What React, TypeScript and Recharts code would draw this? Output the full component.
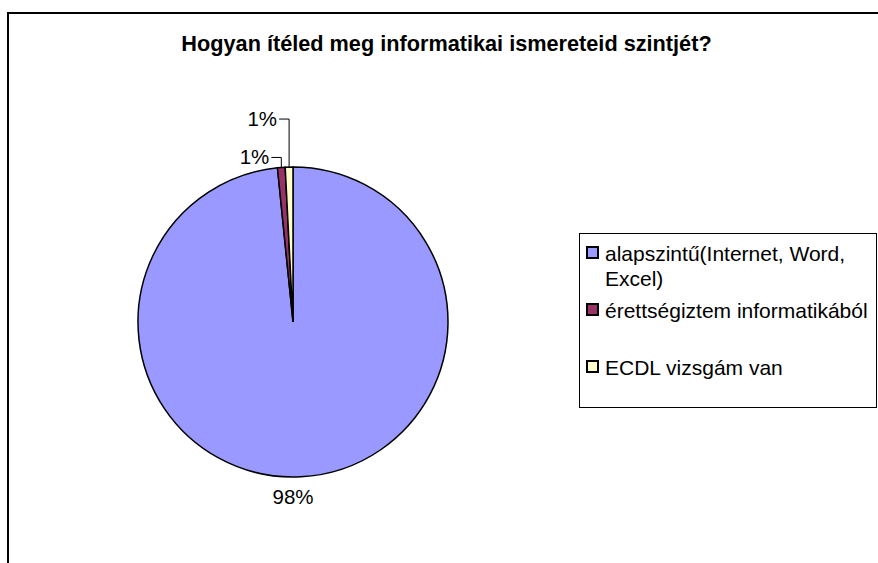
import { PieChart, Pie, Cell, Legend } from 'recharts';

const names = ['alapszintű(Internet, Word, Excel)', 'érettségiztem informatikából', 'ECDL vizsgám van'];
const values = [98.4, 0.8, 0.8];
const colors = ['#9999FF', '#993366', '#FFFFCC'];

const title = 'Hogyan ítéled meg informatikai ismereteid szintjét?';

const FONT = '"Liberation Sans", Arial, sans-serif';
const RADIAN = Math.PI / 180;

const data = names.map((name, i) => ({ name, value: values[i] }));
const total = values.reduce((a, b) => a + b, 0);

// leader line heights above the rim for the small slices
const LEADER_RISE = [0, 10, 48];

function renderLabel(props: any) {
  const { cx, cy, midAngle, outerRadius, index, value } = props;
  const pct = `${Math.round((value / total) * 100)}%`;
  if (index === 0) {
    return (
      <text x={cx} y={cy + outerRadius + 27} textAnchor="middle" fontSize={20.5} fontFamily={FONT} fill="#000">
        {pct}
      </text>
    );
  }
  const x = cx + outerRadius * Math.cos(-midAngle * RADIAN);
  const y = cy + outerRadius * Math.sin(-midAngle * RADIAN);
  const topY = y - LEADER_RISE[index];
  return (
    <g>
      <polyline
        points={`${x},${y} ${x},${topY} ${x - 10},${topY}`}
        fill="none"
        stroke="#000"
        strokeWidth={1}
      />
      <text x={x - 12} y={topY + 7} textAnchor="end" fontSize={20.5} fontFamily={FONT} fill="#000">
        {pct}
      </text>
    </g>
  );
}

function renderLegend() {
  return (
    <div
      style={{
        position: 'relative',
        border: '1px solid #000',
        width: 298,
        height: 175,
        boxSizing: 'border-box',
        fontFamily: FONT,
        fontSize: 21,
        lineHeight: '25px',
        color: '#000',
        background: '#fff',
      }}
    >
      {names.map((name, i) => (
        <div key={name} style={{ position: 'absolute', left: 6, top: 7 + i * 57, width: 290 }}>
          <svg width={13} height={13} style={{ position: 'absolute', left: 0, top: 5 }}>
            <rect x={1} y={1} width={11} height={11} fill={colors[i]} stroke="#000" strokeWidth={2} />
          </svg>
          <div style={{ marginLeft: 19, width: 272 }}>{name}</div>
        </div>
      ))}
    </div>
  );
}

export default function App() {
  return (
    <div style={{ position: 'absolute', left: 0, top: 0, width: 878, height: 563, background: '#fff', overflow: 'hidden' }}>
      <div
        style={{
          position: 'absolute',
          left: 7,
          top: 12,
          width: 900,
          height: 600,
          borderLeft: '2px solid #000',
          borderTop: '2px solid #000',
        }}
      />
      <div
        style={{
          position: 'absolute',
          left: 0,
          top: 32,
          width: 893,
          textAlign: 'center',
          fontFamily: FONT,
          fontWeight: 'bold',
          fontSize: 21.7,
          lineHeight: '24px',
          color: '#000',
        }}
      >
        {title}
      </div>
      <div style={{ position: 'absolute', left: 0, top: 0 }}>
        <PieChart width={878} height={563}>
          <Pie
            data={data}
            dataKey="value"
            nameKey="name"
            cx={288}
            cy={317}
            outerRadius={155}
            startAngle={90}
            endAngle={-270}
            stroke="#000"
            strokeWidth={1.5}
            label={renderLabel}
            labelLine={false}
            isAnimationActive={false}
          >
            {data.map((d, i) => (
              <Cell key={d.name} fill={colors[i]} />
            ))}
          </Pie>
          <Legend
            content={renderLegend}
            wrapperStyle={{ position: 'absolute', left: 579, top: 233, width: 298, height: 175 }}
          />
        </PieChart>
      </div>
    </div>
  );
}
